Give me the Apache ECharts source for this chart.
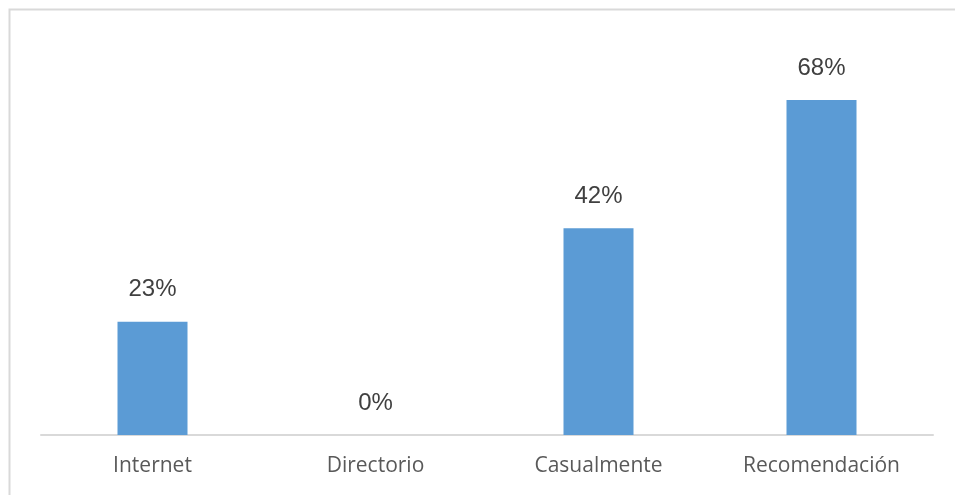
<!DOCTYPE html>
<html>
<head>
<meta charset="utf-8">
<script src="https://cdn.jsdelivr.net/npm/echarts@6/dist/echarts.min.js"></script>
<style>
  html, body { margin: 0; padding: 0; background: #fff; }
  #chart { width: 955px; height: 495px; }
</style>
</head>
<body>
<div id="chart"></div>
<script>
// How customers found us (share of respondents, %)
const categories = ['Internet', 'Directorio', 'Casualmente', 'Recomendación'];
const shares = [23, 0, 42, 68];

const chart = echarts.init(document.getElementById('chart'), null, { renderer: 'canvas' });

chart.setOption({
  animation: false,
  backgroundColor: '#ffffff',
  graphic: [{
    type: 'rect',
    left: 7,
    top: 7,
    shape: { width: 1000, height: 600 },
    style: { fill: 'none', stroke: '#d9d9d9', lineWidth: 2 },
    silent: true,
    z: -1
  }],
  grid: { left: 41, right: 22, top: 41, bottom: 60 },
  xAxis: {
    type: 'category',
    data: categories,
    axisLine: { lineStyle: { color: '#d9d9d9', width: 2 } },
    axisTick: { show: false },
    axisLabel: {
      color: '#595959',
      fontFamily: '"Open Sans", "Noto Sans", sans-serif',
      fontSize: 21,
      margin: 21
    }
  },
  yAxis: {
    type: 'value',
    min: 0,
    max: 80,
    show: false,
    splitLine: { show: false }
  },
  series: [{
    type: 'bar',
    data: shares,
    barWidth: 70,
    itemStyle: { color: '#5b9bd5' },
    label: {
      show: true,
      position: 'top',
      distance: 20,
      formatter: p => p.value + '%',
      color: '#404040',
      fontFamily: '"Liberation Sans", Arial, sans-serif',
      fontSize: 24
    }
  }]
});
</script>
</body>
</html>
